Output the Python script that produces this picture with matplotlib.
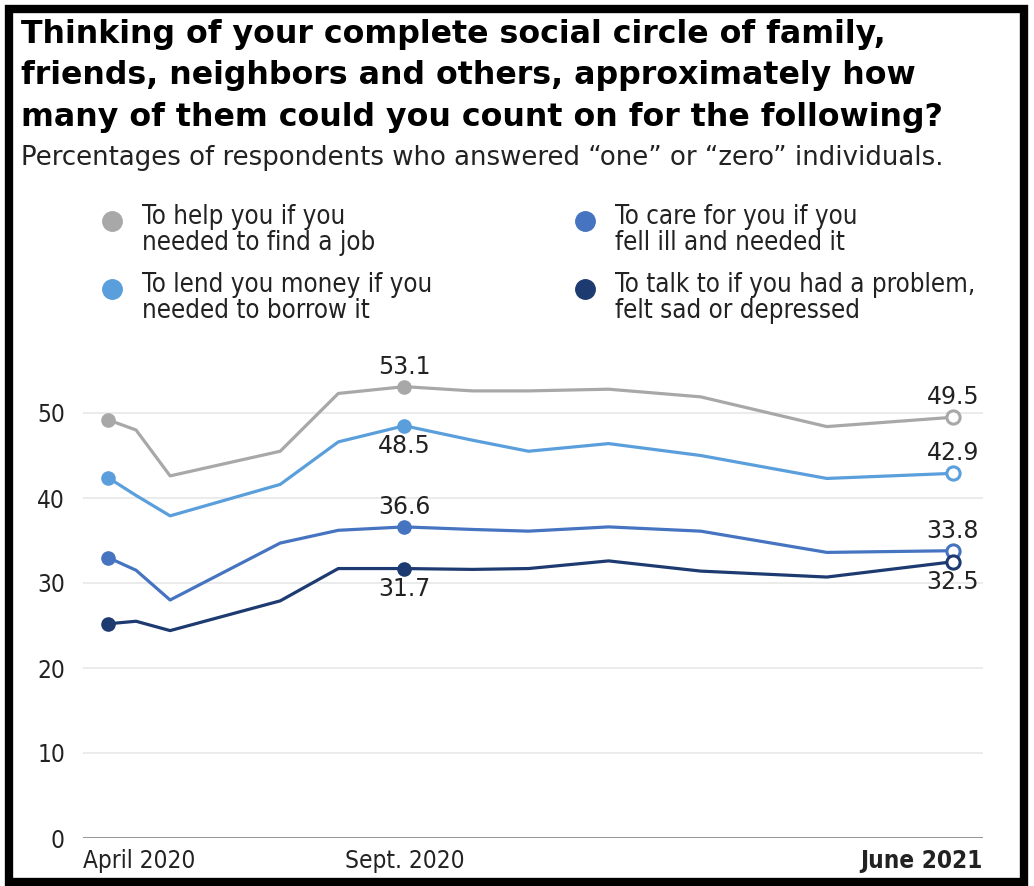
import matplotlib
matplotlib.use("Agg")
import matplotlib.pyplot as plt
import matplotlib.dates as mdates
from matplotlib.lines import Line2D
from matplotlib.patches import Rectangle
import pandas as pd

W, H = 1034, 886

# survey waves (approximate dates)
waves = ["2020-04-05", "2020-04-19", "2020-05-06", "2020-06-30", "2020-07-29",
         "2020-08-31", "2020-10-04", "2020-11-01", "2020-12-11", "2021-01-26",
         "2021-03-30", "2021-06-01"]

series_names = ["To help you if you\nneeded to find a job",
                "To lend you money if you\nneeded to borrow it",
                "To care for you if you\nfell ill and needed it",
                "To talk to if you had a problem,\nfelt sad or depressed"]

job = [49.2, 48.0, 42.6, 45.5, 52.3, 53.1, 52.6, 52.6, 52.8, 51.9, 48.4, 49.5]
money = [42.4, 40.3, 37.9, 41.6, 46.6, 48.5, 46.8, 45.5, 46.4, 45.0, 42.3, 42.9]
care = [33.0, 31.5, 28.0, 34.7, 36.2, 36.6, 36.3, 36.1, 36.6, 36.1, 33.6, 33.8]
talk = [25.2, 25.5, 24.4, 27.9, 31.7, 31.7, 31.6, 31.7, 32.6, 31.4, 30.7, 32.5]

colors = ["#a8a8a8", "#5a9fdc", "#4674c1", "#1d3b70"]
# label placement for the Sept. 2020 and June 2021 values
sept_side = ["above", "below", "above", "below"]
end_side = ["above", "above", "above", "below"]

yticks = [0, 10, 20, 30, 40, 50]

narrow = dict(family="DejaVu Sans", fontstretch="condensed")

dates = pd.to_datetime(waves)
data = [job, money, care, talk]


def px(x, y):
    return x / W, 1 - y / H


fig = plt.figure(figsize=(W / 100, H / 100), dpi=100)
fig.patch.set_facecolor("white")

# axes placed in pixel terms: 0 at y=838, 8.5 px per point
ax = fig.add_axes([83 / W, (H - 838) / H, 900 / W, 56 * 8.5 / H])
ax.set_ylim(0, 56)
x0 = dates[0] - pd.Timedelta(days=12.5)
x1 = dates[-1] + pd.Timedelta(days=15)
ax.set_xlim(x0, x1)

for s in ["top", "right", "left", "bottom"]:
    ax.spines[s].set_visible(False)

for v in yticks[1:]:
    ax.axhline(v, color="#e8e8e8", lw=1.2, zorder=0)
ax.axhline(0, color="#8c8c8c", lw=1.3, zorder=1)

ax.set_yticks(yticks)
ax.set_yticklabels([str(v) for v in yticks], fontsize=17.5, color="#222222", **narrow)
ax.tick_params(axis="y", length=0, pad=13)

sept = pd.Timestamp("2020-08-31")
ax.set_xticks([mdates.date2num(x0), mdates.date2num(sept), mdates.date2num(x1)])
ax.set_xticklabels(["April 2020", "Sept. 2020", "June 2021"], fontsize=17.5,
                   color="#222222", **narrow)
ax.tick_params(axis="x", length=0, pad=8)
tl = ax.get_xticklabels()
tl[0].set_ha("left")
tl[2].set_ha("right")
tl[2].set_fontweight("bold")

for vals, c, s1, s2 in zip(data, colors, sept_side, end_side):
    ax.plot(dates, vals, color=c, lw=2.3, zorder=3, solid_joinstyle="round")
    ax.plot([dates[0], dates[5]], [vals[0], vals[5]], ls="none", marker="o",
            ms=9.5, color=c, zorder=4)
    ax.plot([dates[-1]], [vals[-1]], ls="none", marker="o", ms=9.5,
            mfc="white", mec=c, mew=2.2, zorder=5)
    for i, side in [(5, s1), (-1, s2)]:
        off = 14.5 if side == "above" else -14.5
        ax.annotate(f"{vals[i]:.1f}", (dates[i], vals[i]), xytext=(0, off),
                    textcoords="offset points", ha="center", va="center",
                    fontsize=17, color="#222222", zorder=6)

# title and subtitle
title = ("Thinking of your complete social circle of family,\n"
         "friends, neighbors and others, approximately how\n"
         "many of them could you count on for the following?")
fig.text(*px(21, 19), title, ha="left", va="top", fontsize=22.8,
         fontweight="bold", color="black", linespacing=1.43)
fig.text(*px(21, 158), "Percentages of respondents who answered \u201cone\u201d or \u201czero\u201d individuals.",
         ha="left", va="center", fontsize=18.75, color="#222222")

# legend
leg_pos = [(112, 221), (112, 289), (585, 221), (585, 289)]
for (lx, ly), name, c in zip(leg_pos, series_names, colors):
    fig.add_artist(Line2D([px(lx, ly)[0]], [px(lx, ly)[1]], marker="o", ms=14,
                          color=c, ls="none", transform=fig.transFigure))
    fig.text(*px(lx + 30, ly - 17), name, ha="left", va="top", fontsize=18.5,
             color="#222222", linespacing=1.02, **narrow)

# black frame around the picture
fig.add_artist(Rectangle(px(9, 882), 1015 / W, 873 / H, transform=fig.transFigure,
                         fill=False, ec="black", lw=6))

fig.savefig("out.png", dpi=100)
